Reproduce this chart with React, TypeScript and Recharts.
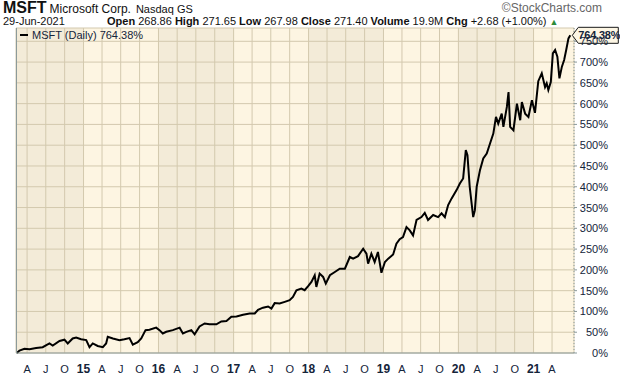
import React from "react";
import {
  CartesianGrid,
  Line,
  LineChart,
  ReferenceDot,
  XAxis,
  YAxis,
} from "recharts";

// MSFT daily close, % change since the first bar
const dates = [
  "2014-02-10", "2014-02-23", "2014-03-19", "2014-04-13", "2014-05-15", "2014-06-16",
  "2014-07-19", "2014-08-04", "2014-09-06", "2014-09-30", "2014-10-16", "2014-11-09",
  "2014-11-26", "2014-12-20", "2015-01-14", "2015-01-30", "2015-02-15", "2015-03-11",
  "2015-04-05", "2015-04-21", "2015-04-29", "2015-05-24", "2015-06-25", "2015-07-19",
  "2015-08-13", "2015-08-29", "2015-09-22", "2015-10-09", "2015-10-30", "2015-11-18",
  "2015-12-21", "2016-01-06", "2016-01-22", "2016-02-08", "2016-03-11", "2016-04-13",
  "2016-04-29", "2016-05-16", "2016-06-09", "2016-06-25", "2016-07-19", "2016-08-13",
  "2016-09-06", "2016-10-09", "2016-11-02", "2016-11-27", "2016-12-21", "2017-01-15",
  "2017-02-16", "2017-03-20", "2017-04-14", "2017-04-30", "2017-05-24", "2017-06-18",
  "2017-07-04", "2017-07-20", "2017-08-13", "2017-09-07", "2017-10-01", "2017-10-17",
  "2017-11-03", "2017-11-27", "2017-12-13", "2017-12-30", "2018-01-15", "2018-01-31",
  "2018-02-08", "2018-02-24", "2018-03-13", "2018-03-26", "2018-04-15", "2018-05-09",
  "2018-06-02", "2018-06-27", "2018-07-21", "2018-08-06", "2018-08-30", "2018-09-24",
  "2018-10-10", "2018-10-18", "2018-11-03", "2018-11-19", "2018-12-05", "2018-12-22",
  "2019-01-08", "2019-01-24", "2019-02-17", "2019-03-05", "2019-03-21", "2019-04-06",
  "2019-04-23", "2019-05-09", "2019-05-25", "2019-06-11", "2019-07-05", "2019-07-21",
  "2019-08-06", "2019-08-31", "2019-09-24", "2019-10-11", "2019-10-27", "2019-11-12",
  "2019-11-29", "2019-12-23", "2020-01-08", "2020-01-24", "2020-02-06", "2020-02-14",
  "2020-02-25", "2020-03-13", "2020-03-21", "2020-03-30", "2020-04-15", "2020-05-01",
  "2020-05-18", "2020-06-03", "2020-06-19", "2020-07-02", "2020-07-13", "2020-07-30",
  "2020-08-07", "2020-08-24", "2020-09-01", "2020-09-09", "2020-09-25", "2020-10-12",
  "2020-10-28", "2020-11-05", "2020-11-21", "2020-12-07", "2020-12-24", "2021-01-08",
  "2021-01-24", "2021-02-10", "2021-02-26", "2021-03-06", "2021-03-14", "2021-03-26",
  "2021-04-05", "2021-04-16", "2021-04-27", "2021-05-07", "2021-05-19", "2021-05-30",
  "2021-06-09", "2021-06-20", "2021-06-29",
];

const pctChange = [
  0, 6, 10, 9, 12, 14,
  23, 18, 29, 32, 23, 35,
  37, 33, 31, 14, 23, 17,
  14, 23, 39, 35, 31, 33,
  36, 20, 26, 35, 55, 56,
  61, 55, 47, 51, 55, 61,
  47, 51, 55, 45, 64, 71,
  69, 69, 76, 77, 87, 88,
  92, 95, 95, 104, 109, 112,
  107, 120, 119, 123, 127, 135,
  151, 155, 151, 161, 171, 187,
  159, 191, 183, 167, 187, 195,
  203, 203, 231, 227, 233, 251,
  239, 215, 239, 219, 243, 193,
  219, 227, 237, 263, 274, 279,
  303, 295, 283, 320, 327, 337,
  320, 332, 327, 336, 327, 356,
  372, 392, 408, 420, 488, 476,
  400, 327, 343, 400, 440, 468,
  480, 504, 528, 568, 552, 576,
  544, 592, 628, 544, 536, 600,
  560, 604, 576, 568, 608, 578,
  654, 673, 640, 649, 633, 652,
  721, 729, 713, 661, 689, 705,
  729, 757, 764.38,
];

const yTicks = [0, 50, 100, 150, 200, 250, 300, 350, 400, 450, 500, 550, 600, 650, 700, 750];
const quarterTicks = [
  "2014-04-01", "2014-07-01", "2014-10-01",
  "2015-01-01", "2015-04-01", "2015-07-01", "2015-10-01",
  "2016-01-01", "2016-04-01", "2016-07-01", "2016-10-01",
  "2017-01-01", "2017-04-01", "2017-07-01", "2017-10-01",
  "2018-01-01", "2018-04-01", "2018-07-01", "2018-10-01",
  "2019-01-01", "2019-04-01", "2019-07-01", "2019-10-01",
  "2020-01-01", "2020-04-01", "2020-07-01", "2020-10-01",
  "2021-01-01", "2021-04-01",
];

const ts = (d: string) => Date.parse(d + "T00:00:00Z");
const X_MIN = ts("2014-02-06");
const X_MAX = ts("2021-07-17");
const Y_MAX = 782;

const data = dates.map((d, i) => ({ t: ts(d), v: pctChange[i] }));
const last = data[data.length - 1];

const TEXT = "#14243a";
const GRID = "#d3c9ae";
const DARK_BAND = "#f3ebd8";
const LIGHT_BAND = "#fdf5e2";
// one stripe per quarter; even calendar years shaded darker
const bandFill = [DARK_BAND, DARK_BAND, DARK_BAND, DARK_BAND, LIGHT_BAND, LIGHT_BAND, LIGHT_BAND, LIGHT_BAND];
const FONT = "Arial, 'Liberation Sans', sans-serif";

function XTick({ x, y, payload }: any) {
  const d = new Date(payload.value);
  const m = d.getUTCMonth();
  const year = m === 0;
  const label = year
    ? String(d.getUTCFullYear()).slice(2)
    : m === 3
    ? "A"
    : m === 6
    ? "J"
    : "O";
  return (
    <text
      x={x}
      y={y + 12}
      textAnchor="middle"
      fontSize={year ? 12 : 11}
      fontWeight={year ? 700 : 400}
      fill={TEXT}
      fontFamily={FONT}
    >
      {label}
    </text>
  );
}

function YTick({ x, y, payload }: any) {
  return (
    <text
      x={x + 29}
      y={y + 4}
      textAnchor="end"
      fontSize={11}
      fill={TEXT}
      fontFamily={FONT}
    >
      {payload.value}%
    </text>
  );
}

function LastValueTag({ cx, cy }: any) {
  const x = cx + 2;
  return (
    <g>
      <path
        d={`M${x},${cy} L${x + 6},${cy - 8} L${x + 46},${cy - 8} L${x + 46},${cy + 8} L${x + 6},${cy + 8} Z`}
        fill="#fdf6e4"
        stroke="#1a1a1a"
        strokeWidth={1}
      />
      <text
        x={x + 6}
        y={cy + 4}
        fontSize={11}
        fontWeight={700}
        letterSpacing={-0.2}
        fill={TEXT}
        fontFamily={FONT}
      >
        {last.v.toFixed(2)}%
      </text>
    </g>
  );
}

export default function App() {
  return (
    <div
      style={{
        position: "absolute",
        left: 0,
        top: 0,
        width: 620,
        height: 376,
        background: "#fff",
        fontFamily: FONT,
        color: "#111",
      }}
    >
      <div style={{ position: "absolute", left: 3, top: 0, whiteSpace: "nowrap", lineHeight: "16px" }}>
        <span style={{ fontSize: 16, fontWeight: 700 }}>MSFT</span>
        <span style={{ fontSize: 12, marginLeft: 3 }}>Microsoft Corp.</span>
        <span style={{ fontSize: 11, marginLeft: 5 }}>Nasdaq GS</span>
      </div>
      <div style={{ position: "absolute", right: 18, top: 1, fontSize: 12, color: "#666", lineHeight: "14px" }}>
        ©StockCharts.com
      </div>
      <div style={{ position: "absolute", left: 3, top: 15, fontSize: 11, whiteSpace: "nowrap", lineHeight: "12px" }}>
        29-Jun-2021
      </div>
      <div style={{ position: "absolute", left: 107, top: 15, fontSize: 11, whiteSpace: "nowrap", lineHeight: "12px" }}>
        <b>Open</b> 268.86 <b>High</b> 271.65 <b>Low</b> 267.98 <b>Close</b> 271.40{" "}
        <b>Volume</b> 19.9M <b>Chg</b> +2.68 (+1.00%){" "}
        <span style={{ color: "#2e8b3a", fontSize: 9 }}>▲</span>
      </div>

      <div style={{ position: "absolute", left: 0, top: 0 }}>
        <LineChart
          width={620}
          height={376}
          data={data}
          margin={{ top: 28, right: 0, bottom: 0, left: 16 }}
        >
          <CartesianGrid
            stroke={GRID}
            strokeOpacity={1}
            strokeWidth={1}
            verticalFill={bandFill}
            fillOpacity={1}
          />
          <XAxis
            dataKey="t"
            type="number"
            scale="time"
            domain={[X_MIN, X_MAX]}
            ticks={quarterTicks.map(ts)}
            tick={<XTick />}
            height={23}
            axisLine={{ stroke: "#8c9a9a", strokeWidth: 1 }}
            tickLine={false}
            interval={0}
          />
          <YAxis
            orientation="right"
            type="number"
            domain={[0, Y_MAX]}
            ticks={yTicks}
            tick={<YTick />}
            width={46}
            axisLine={{ stroke: "#8c9a9a", strokeDasharray: "1 2" }}
            tickLine={{ stroke: "#8c9a9a" }}
            tickSize={3}
            interval={0}
          />
          <Line
            dataKey="v"
            type="linear"
            stroke="#000"
            strokeWidth={2}
            dot={false}
            isAnimationActive={false}
          />
          <ReferenceDot x={last.t} y={last.v} r={0} shape={<LastValueTag />} />
        </LineChart>
      </div>

      <div
        style={{
          position: "absolute",
          left: 16,
          top: 28,
          width: 1,
          height: 325,
          background: "#8c9a9a",
        }}
      />
      <div
        style={{
          position: "absolute",
          left: 20,
          top: 29,
          fontSize: 11,
          color: TEXT,
          whiteSpace: "nowrap",
          display: "flex",
          alignItems: "center",
          lineHeight: "12px",
        }}
      >
        <span style={{ display: "inline-block", width: 8, height: 2, background: "#000", marginRight: 4 }} />
        MSFT (Daily) 764.38%
      </div>
    </div>
  );
}
